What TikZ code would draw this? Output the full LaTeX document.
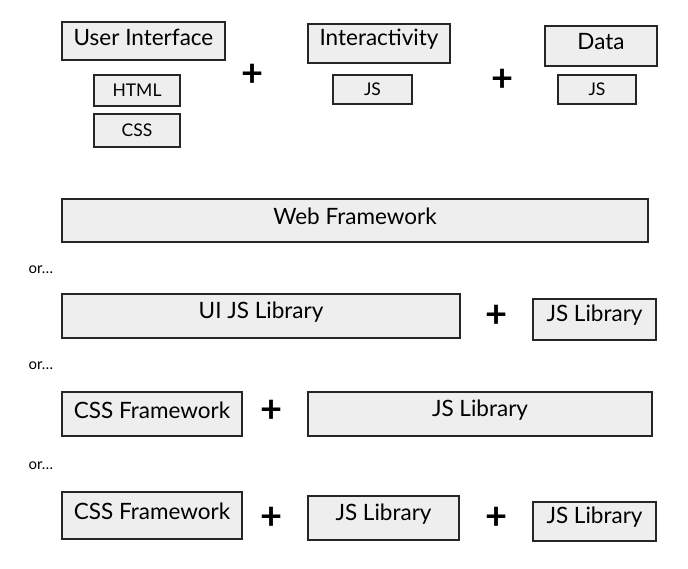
\documentclass[tikz,border=0pt]{standalone}
\usepackage{fontspec}
\setmainfont{Lato}
\begin{document}
\begin{tikzpicture}[x=1pt,y=-1pt,
    box/.style={draw=black!85, fill=gray!13, line width=1.8pt, inner sep=0pt},
    big/.style={font=\fontsize{22.5}{26}\selectfont, yshift=4pt},
    small/.style={font=\fontsize{17.5}{20}\selectfont},
    plus/.style={font=\fontsize{38}{38}\selectfont\bfseries},
    ortext/.style={anchor=west, font=\fontsize{15}{17}\selectfont}]
      \useasboundingbox (0,0) rectangle (688,569);

      % Couches du haut
      \node[box, minimum width=163pt, minimum height=38pt, label={[big]center:User Interface}] (ui) at (143.5,41) {};
      \node[box, small, minimum width=86pt, minimum height=31pt] (html) at (137,90.5) {HTML};
      \node[box, small, minimum width=86pt, minimum height=33pt] (css) at (137,130.5) {CSS};
      \node[plus] (p1) at (253,75) {+};
      \node[box, minimum width=142pt, minimum height=39pt, label={[big]center:Interactivity}] (inter) at (379,43.5) {};
      \node[box, small, minimum width=79pt, minimum height=29pt] (jsa) at (372.5,89.5) {JS};
      \node[plus] (p2) at (503,80) {+};
      \node[box, minimum width=112pt, minimum height=40pt, label={[big]center:Data}] (data) at (601,46) {};
      \node[box, small, minimum width=78pt, minimum height=29pt] (jsb) at (597,89.5) {JS};

      % Framework complet
      \node[box, minimum width=586pt, minimum height=43pt, label={[big]center:Web Framework}] (web) at (355,220.5) {};

      % Variante 1
      \node[ortext] (or1) at (25,270) {or\ldots};
      \node[box, minimum width=398pt, minimum height=44pt, label={[big]center:UI JS Library}] (uilib) at (261,316) {};
      \node[plus] (p3) at (497,316) {+};
      \node[box, minimum width=123pt, minimum height=41pt, label={[big]center:JS Library}] (jslibA) at (594.5,319.5) {};

      % Variante 2
      \node[ortext] (or2) at (25,366) {or\ldots};
      \node[box, minimum width=180pt, minimum height=44pt, label={[big]center:CSS Framework}] (cssfwA) at (152,414) {};
      \node[plus] (p4) at (272,411) {+};
      \node[box, minimum width=344pt, minimum height=44pt, label={[big]center:JS Library}] (jslibB) at (480,414) {};

      % Variante 3
      \node[ortext] (or3) at (25,466) {or\ldots};
      \node[box, minimum width=180pt, minimum height=47pt, label={[big]center:CSS Framework}] (cssfwB) at (152,515.5) {};
      \node[plus] (p5) at (272,518) {+};
      \node[box, minimum width=151pt, minimum height=44pt, label={[big]center:JS Library}] (jslibC) at (383.5,518) {};
      \node[plus] (p6) at (497,518) {+};
      \node[box, minimum width=123pt, minimum height=39pt, label={[big]center:JS Library}] (jslibD) at (594.5,521.5) {};
\end{tikzpicture}
\end{document}
